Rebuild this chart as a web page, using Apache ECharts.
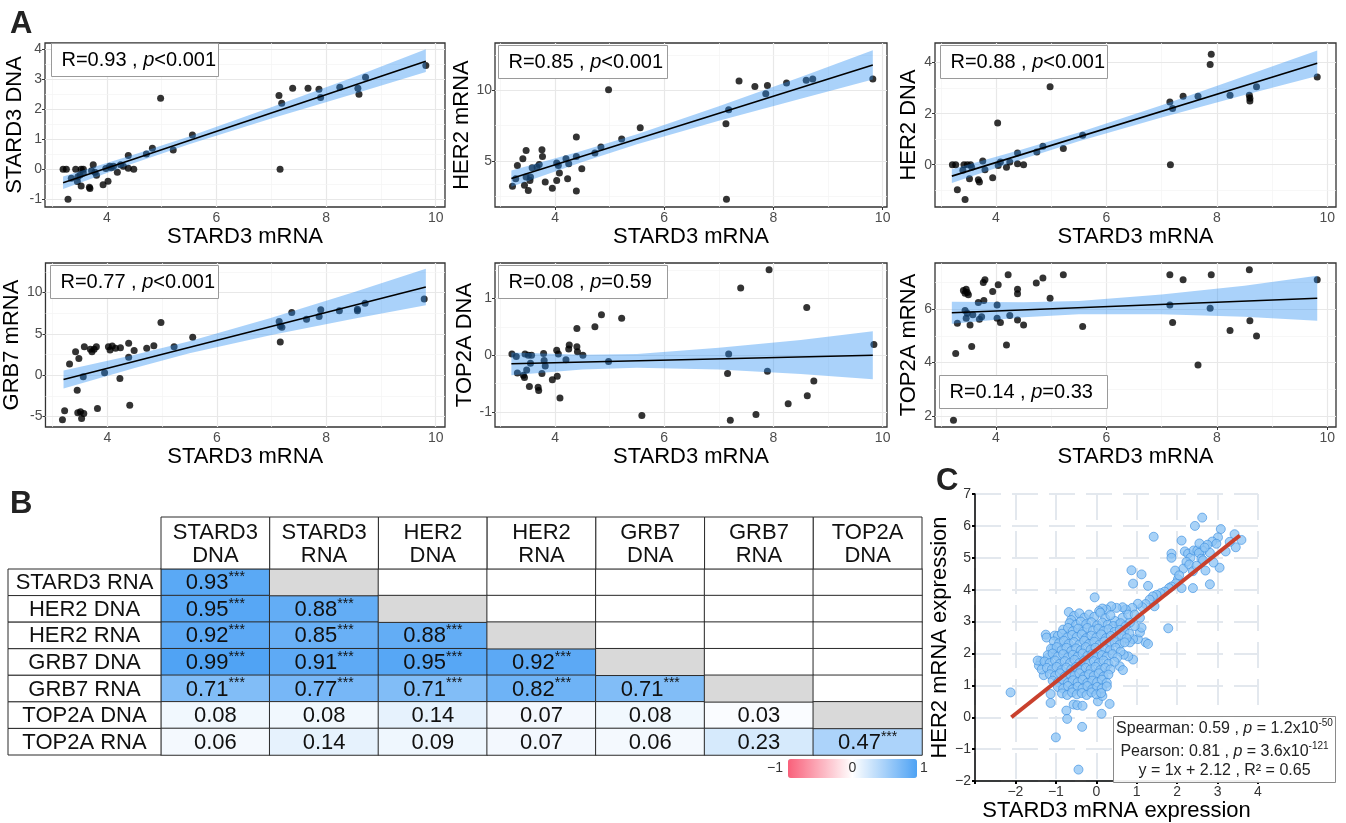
<!DOCTYPE html>
<html>
<head>
<meta charset="utf-8">
<title>STARD3 correlations</title>
<script src="https://cdn.jsdelivr.net/npm/echarts@6/dist/echarts.min.js"></script>
<style>
  html, body { margin: 0; padding: 0; background: #fff; }
  #chart { width: 1346px; height: 823px; }
</style>
</head>
<body>
<div id="chart"></div>
<script>
const FONT = '"Liberation Sans", Arial, Helvetica, sans-serif';

// ---------- panel A: STARD3 mRNA (x) against each gene (y) ----------
const aXTicks = [4, 6, 8, 10];
const aXMinor = [3, 5, 7, 9];

const stard3DnaPts = [[3.20,0.00],[3.26,0.00],[3.29,-1.00],[3.35,-0.30],[3.43,0.00],[3.46,-0.41],[3.47,-0.25],[3.51,-0.19],[3.53,0.00],[3.53,-0.56],[3.57,0.00],[3.57,-0.13],[3.68,-0.60],[3.69,-0.64],[3.72,-0.05],[3.75,0.15],[3.78,-0.10],[3.81,-0.20],[3.93,-0.52],[3.98,0.02],[4.02,-0.40],[4.05,0.10],[4.08,0.05],[4.12,0.10],[4.19,-0.10],[4.25,0.15],[4.30,0.10],[4.39,0.46],[4.39,0.03],[4.49,0.00],[4.72,0.51],[4.83,0.70],[4.98,2.37],[5.21,0.64],[5.56,1.14],[7.14,2.46],[7.16,0.00],[7.19,2.20],[7.39,2.70],[7.67,2.70],[7.87,2.67],[7.90,2.39],[8.25,2.73],[8.58,2.70],[8.60,2.50],[8.72,3.07],[9.82,3.46]];
const her2RnaPts = [[3.22,3.21],[3.28,3.75],[3.31,4.69],[3.41,5.17],[3.47,5.75],[3.44,3.28],[3.47,3.87],[3.51,2.92],[3.54,3.63],[3.55,3.87],[3.58,4.53],[3.67,4.58],[3.71,4.76],[3.76,5.80],[3.77,5.33],[3.82,3.51],[3.95,3.07],[4.03,4.86],[4.03,3.63],[4.06,4.69],[4.08,4.15],[4.20,5.17],[4.23,3.75],[4.25,4.81],[4.39,6.70],[4.39,2.88],[4.39,5.33],[4.49,4.46],[4.73,5.57],[4.84,5.99],[4.98,10.05],[5.22,6.56],[5.56,7.36],[7.13,7.64],[7.18,8.63],[7.14,2.29],[7.37,10.66],[7.66,10.28],[7.86,9.76],[7.89,10.35],[8.24,10.52],[8.60,10.71],[8.72,10.80],[9.82,10.80]];
const her2DnaPts = [[3.21,0.00],[3.27,0.00],[3.30,-0.98],[3.40,-0.22],[3.42,0.00],[3.44,-1.37],[3.48,0.00],[3.52,-0.55],[3.54,0.00],[3.56,-0.10],[3.68,-0.59],[3.70,-0.68],[3.76,0.14],[3.80,-0.20],[3.94,-0.51],[4.03,1.63],[4.04,-0.03],[4.08,0.10],[4.19,-0.10],[4.25,0.10],[4.39,0.46],[4.39,0.04],[4.50,0.00],[4.74,0.50],[4.85,0.72],[4.98,3.05],[5.22,0.63],[5.57,1.15],[7.15,2.46],[7.16,0.00],[7.20,2.20],[7.39,2.68],[7.66,2.68],[7.88,3.93],[7.90,4.33],[8.24,2.72],[8.59,2.72],[8.60,2.60],[8.60,2.50],[8.72,3.05],[9.82,3.44]];
const grb7RnaPts = [[3.18,-5.39],[3.22,-4.30],[3.31,1.34],[3.42,2.83],[3.45,-1.82],[3.48,2.02],[3.46,-4.57],[3.51,-4.45],[3.53,-5.26],[3.57,-4.66],[3.56,-0.20],[3.58,3.44],[3.69,3.12],[3.72,2.83],[3.76,3.12],[3.80,3.44],[3.82,-4.05],[3.95,0.28],[4.02,3.44],[4.05,3.04],[4.09,3.52],[4.15,3.24],[4.24,3.32],[4.23,-0.40],[4.39,3.85],[4.39,2.15],[4.41,-3.64],[4.49,2.96],[4.72,3.24],[4.85,3.56],[4.98,6.36],[5.22,3.44],[5.56,4.57],[7.14,6.48],[7.16,5.95],[7.16,4.00],[7.19,5.79],[7.37,7.57],[7.64,6.76],[7.87,7.09],[7.90,7.90],[8.24,7.77],[8.57,7.77],[8.57,7.98],[8.71,8.70],[9.79,9.19]];
const top2aDnaPts = [[3.21,0.02],[3.29,-0.02],[3.31,-0.31],[3.42,-0.35],[3.44,-0.39],[3.45,0.02],[3.48,-0.26],[3.51,0.00],[3.53,-0.55],[3.55,-0.14],[3.57,0.00],[3.69,-0.56],[3.70,-0.62],[3.76,-0.32],[3.79,0.03],[3.80,-0.09],[3.82,-0.19],[3.95,-0.43],[4.03,0.09],[4.04,-0.37],[4.06,0.02],[4.09,-0.75],[4.20,-0.08],[4.25,0.11],[4.26,0.18],[4.40,0.47],[4.40,0.15],[4.41,0.06],[4.51,0.00],[4.73,0.50],[4.85,0.71],[4.98,-0.11],[5.22,0.65],[5.59,-1.06],[7.16,-0.32],[7.18,0.02],[7.21,-1.14],[7.40,1.18],[7.68,-1.04],[7.89,-0.28],[7.92,1.50],[8.27,-0.85],[8.61,0.84],[8.62,-0.71],[8.74,-0.45],[9.84,0.19]];
const top2aRnaPts = [[3.23,1.84],[3.27,4.34],[3.30,5.47],[3.41,6.70],[3.44,6.60],[3.46,6.75],[3.48,6.63],[3.50,6.54],[3.44,5.95],[3.46,5.66],[3.48,5.85],[3.53,5.41],[3.56,4.60],[3.58,5.79],[3.68,6.25],[3.70,5.62],[3.74,5.72],[3.77,7.00],[3.80,7.10],[3.78,6.33],[3.94,6.66],[4.04,6.92],[4.02,6.16],[4.02,5.66],[4.08,5.50],[4.19,4.66],[4.22,7.29],[4.25,5.76],[4.39,6.75],[4.39,6.58],[4.39,5.60],[4.50,5.41],[4.73,6.98],[4.85,7.17],[4.98,6.41],[5.22,7.29],[5.57,5.35],[7.15,7.29],[7.15,6.16],[7.20,5.50],[7.39,7.10],[7.66,3.91],[7.88,6.04],[7.90,7.29],[8.24,5.20],[8.59,7.48],[8.60,5.57],[8.72,5.00],[9.82,7.10]];

// fitted line ends and confidence band
const fitX = [3.2, 9.82];
const stard3DnaFit = [-0.45, 3.60];
const her2RnaFit = [3.76, 11.80];
const her2DnaFit = [-0.45, 3.98];
const grb7RnaFit = [-0.53, 10.65];
const top2aDnaFit = [-0.15, 0.00];
const top2aRnaFit = [5.87, 6.41];

const bandX = [3.2, 4.5, 5.5, 7, 8.5, 9.82];
const stard3DnaLo = [-0.66, 0.21, 0.83, 1.69, 2.51, 3.24];
const stard3DnaHi = [-0.24, 0.49, 1.09, 2.07, 3.07, 4.00];
const her2RnaLo = [3.19, 4.94, 6.18, 7.85, 9.40, 10.76];
const her2RnaHi = [4.34, 5.73, 6.90, 8.87, 10.95, 12.84];
const her2DnaLo = [-0.72, 0.23, 0.92, 1.85, 2.73, 3.48];
const her2DnaHi = [-0.18, 0.61, 1.26, 2.33, 3.47, 4.48];
const grb7RnaLo = [-1.63, 0.87, 2.64, 4.84, 6.82, 8.45];
const grb7RnaHi = [0.57, 2.47, 4.08, 6.94, 10.02, 12.85];
const top2aDnaLo = [-0.35, -0.25, -0.22, -0.25, -0.33, -0.42];
const top2aDnaHi = [0.05, 0.01, 0.02, 0.13, 0.27, 0.42];
const top2aRnaLo = [5.46, 5.70, 5.81, 5.81, 5.72, 5.57];
const top2aRnaHi = [6.28, 6.26, 6.31, 6.55, 6.88, 7.25];

const aStatR = ['0.93', '0.85', '0.88', '0.77', '0.08', '0.14'];
const aStatP = ['<0.001', '<0.001', '<0.001', '<0.001', '=0.59', '=0.33'];

// ---------- panel B: correlation table ----------
const tableCols = ['STARD3\nDNA', 'STARD3\nRNA', 'HER2\nDNA', 'HER2\nRNA', 'GRB7\nDNA', 'GRB7\nRNA', 'TOP2A\nDNA'];
const tableRows = ['STARD3 RNA', 'HER2 DNA', 'HER2 RNA', 'GRB7 DNA', 'GRB7 RNA', 'TOP2A DNA', 'TOP2A RNA'];
const corrLower = [
  [0.93],
  [0.95, 0.88],
  [0.92, 0.85, 0.88],
  [0.99, 0.91, 0.95, 0.92],
  [0.71, 0.77, 0.71, 0.82, 0.71],
  [0.08, 0.08, 0.14, 0.07, 0.08, 0.03],
  [0.06, 0.14, 0.09, 0.07, 0.06, 0.23, 0.47]
];
const corrStars = [
  ['***'],
  ['***', '***'],
  ['***', '***', '***'],
  ['***', '***', '***', '***'],
  ['***', '***', '***', '***', '***'],
  ['', '', '', '', '', ''],
  ['', '', '', '', '', '', '***']
];

// ---------- panel C: STARD3 vs HER2 mRNA expression ----------
const cOuterPts = [[-2.12,0.78],[-1.13,0.73],[-1.13,0.45],[-1.00,-0.63],[-0.74,0.21],[-0.72,-0.05],[-0.44,-1.64],[-0.35,-0.30],[-0.56,0.40],[-0.47,0.38],[-0.34,0.36],[0.13,0.11],[0.33,0.42],[0.04,0.50],[0.15,0.67],[-0.04,3.76],[-0.68,3.30],[-1.25,2.59],[-1.23,2.50],[-1.03,2.56],[-1.38,1.76],[-1.19,1.87],[-1.07,2.14],[-1.30,1.32],[-1.42,1.62],[-1.35,1.50],[-1.45,1.78],
  [0.87,4.61],[1.12,4.48],[0.91,4.19],[1.28,4.12],[1.42,5.66],[1.78,2.79],[1.86,5.13],[1.86,5.00],[2.11,5.54],[2.44,6.00],[2.62,6.26],[2.39,4.05],[2.81,4.17],[3.05,4.69],[3.08,5.90],[3.42,5.74],[3.45,5.33],[3.59,5.56],[3.01,5.64],[2.87,5.51],[2.97,5.44],[2.75,5.41],[2.63,5.23],[2.81,5.16],[2.19,5.20],[2.27,5.13],[2.33,5.00],[2.41,5.23],[2.50,5.23],[2.54,5.15],[2.60,4.97],[2.64,4.92],[2.23,4.87],[2.15,4.66],[2.30,4.79],[2.39,4.58],[2.48,4.75],[2.02,4.33],[1.97,4.20],[1.86,4.10],[1.80,4.05],[2.11,4.05],[1.69,3.94],[1.59,3.89],[1.49,3.84],[1.40,3.79],[1.32,3.69],[1.22,3.55],[1.14,3.45],[1.03,3.56],[1.44,3.48],[0.89,3.43],[0.73,3.38],[0.65,3.45],[0.50,3.43],[0.37,3.48],[0.25,3.38],[0.15,3.41],[0.07,3.33],[1.22,2.35],[1.28,2.30],[1.03,2.45],[0.91,2.45],[0.83,2.35],[1.08,2.66],[1.12,2.81],[0.95,2.86],[0.83,2.97],[0.65,3.12],[0.79,3.22],[0.95,3.22],[1.08,3.12],[0.56,2.92],[0.46,3.02],[0.91,1.81],[0.79,1.91],[0.68,1.96],[0.58,1.60],[0.66,1.48],[2.70,4.60],[2.90,4.85],[3.20,5.20],[3.30,5.50],[2.55,5.45],[2.68,5.32],[1.95,4.60],[2.05,4.45]];
const cCloudPts = [[-0.55,3.18],[-0.42,3.26],[-0.30,3.12],[-0.18,3.22],[-0.05,3.15],[0.10,3.28],[0.22,3.10],[0.35,3.20],[-0.62,3.05],
  [-0.66,2.95],[-0.50,2.90],[-0.38,3.00],[-0.25,2.92],[-0.12,2.98],[0.02,2.88],[0.15,2.97],[0.28,2.90],[0.42,2.86],[0.60,2.95],[0.72,2.85],
  [-0.82,2.75],[-0.70,2.80],[-0.58,2.70],[-0.45,2.78],[-0.33,2.68],[-0.22,2.80],[-0.08,2.72],[0.05,2.78],[0.18,2.70],[0.30,2.76],[0.45,2.68],[0.58,2.74],[0.70,2.70],[0.82,2.62],
  [-0.95,2.55],[-0.85,2.62],[-0.72,2.50],[-0.60,2.58],[-0.48,2.52],[-0.36,2.60],[-0.25,2.48],[-0.12,2.56],[0.00,2.50],[0.12,2.60],[0.24,2.48],[0.36,2.55],[0.50,2.50],[0.62,2.58],[0.75,2.48],
  [-1.05,2.38],[-0.92,2.32],[-0.80,2.40],[-0.68,2.30],[-0.55,2.36],[-0.42,2.28],[-0.30,2.40],[-0.18,2.30],[-0.05,2.37],[0.08,2.28],[0.20,2.38],[0.32,2.30],[0.45,2.36],[0.58,2.28],[0.70,2.35],
  [-1.12,2.15],[-0.98,2.20],[-0.86,2.10],[-0.74,2.18],[-0.62,2.08],[-0.50,2.16],[-0.38,2.10],[-0.26,2.20],[-0.14,2.12],[-0.02,2.18],[0.10,2.08],[0.22,2.15],[0.34,2.10],[0.48,2.18],[0.60,2.06],
  [-1.20,1.95],[-1.08,2.00],[-0.95,1.90],[-0.82,1.98],[-0.70,1.88],[-0.58,1.96],[-0.46,1.90],[-0.34,2.00],[-0.22,1.92],[-0.10,1.98],[0.02,1.88],[0.14,1.95],[0.26,1.90],[0.40,1.98],[0.52,1.88],
  [-1.28,1.75],[-1.15,1.70],[-1.02,1.78],[-0.90,1.68],[-0.78,1.76],[-0.65,1.70],[-0.54,1.80],[-0.42,1.70],[-0.30,1.78],[-0.18,1.68],[-0.06,1.76],[0.06,1.70],[0.18,1.78],[0.30,1.68],[0.45,1.74],
  [-1.22,1.55],[-1.10,1.50],[-0.98,1.58],[-0.86,1.48],[-0.74,1.56],[-0.62,1.50],[-0.50,1.58],[-0.38,1.48],[-0.26,1.55],[-0.14,1.50],[-0.02,1.58],[0.10,1.48],[0.22,1.55],[0.35,1.50],
  [-1.15,1.35],[-1.02,1.30],[-0.90,1.38],[-0.78,1.28],[-0.66,1.36],[-0.54,1.30],[-0.42,1.38],[-0.30,1.28],[-0.18,1.35],[-0.06,1.30],[0.06,1.38],[0.18,1.28],[0.30,1.34],
  [-1.08,1.15],[-0.95,1.10],[-0.82,1.18],[-0.70,1.08],[-0.58,1.16],[-0.46,1.10],[-0.34,1.18],[-0.22,1.08],[-0.10,1.15],[0.02,1.10],[0.14,1.18],[0.26,1.08],
  [-0.95,0.95],[-0.82,0.90],[-0.70,0.98],[-0.58,0.88],[-0.46,0.96],[-0.34,0.90],[-0.22,0.98],[-0.10,0.88],[0.02,0.95],[0.14,0.90],[0.26,0.97],
  [-0.85,0.75],[-0.72,0.70],[-0.60,0.78],[-0.48,0.72],[-0.36,0.76],[-0.24,0.70],[-0.12,0.78],[0.00,0.72],[0.12,0.76]];
const cFitX = [-2.1, 3.55];
const cFitY = [0.0, 5.70];

// ---------- layout of the six small panels ----------
const aPanels = [
  {box: [45, 43, 400, 164], xr: [2.87, 10.17], yr: [-1.26, 4.21], yTicks: [-1, 0, 1, 2, 3, 4], yMinor: [-0.5, 0.5, 1.5, 2.5, 3.5], name: 'STARD3 DNA', yGap: 9, xGap: 13, pts: stard3DnaPts, fit: stard3DnaFit, lo: stard3DnaLo, hi: stard3DnaHi, tag: [51, 43, 167]},
  {box: [495, 43, 392, 164], xr: [2.90, 10.08], yr: [1.75, 13.35], yTicks: [5, 10], yMinor: [2.5, 7.5, 12.5], name: 'HER2 mRNA', yGap: 12, xGap: 13, pts: her2RnaPts, fit: her2RnaFit, lo: her2RnaLo, hi: her2RnaHi, tag: [498, 45, 169]},
  {box: [935, 43, 401, 164], xr: [2.895, 10.16], yr: [-1.66, 4.77], yTicks: [0, 2, 4], yMinor: [-1, 1, 3], name: 'HER2 DNA', yGap: 5, xGap: 13, pts: her2DnaPts, fit: her2DnaFit, lo: her2DnaLo, hi: her2DnaHi, tag: [940, 45, 167]},
  {box: [45, 263, 400, 164], xr: [2.87, 10.17], yr: [-6.28, 13.56], yTicks: [-5, 0, 5, 10], yMinor: [-2.5, 2.5, 7.5, 12.5], name: 'GRB7 mRNA', yGap: 9, xGap: 12, pts: grb7RnaPts, fit: grb7RnaFit, lo: grb7RnaLo, hi: grb7RnaHi, tag: [50, 265, 168]},
  {box: [495, 263, 392, 164], xr: [2.90, 10.08], yr: [-1.26, 1.62], yTicks: [-1, 0, 1], yMinor: [-0.5, 0.5, 1.5], name: 'TOP2A DNA', yGap: 12, xGap: 12, pts: top2aDnaPts, fit: top2aDnaFit, lo: top2aDnaLo, hi: top2aDnaHi, tag: [498, 265, 169]},
  {box: [935, 263, 401, 164], xr: [2.895, 10.16], yr: [1.59, 7.73], yTicks: [2, 4, 6], yMinor: [3, 5, 7], name: 'TOP2A mRNA', yGap: 5, xGap: 12, pts: top2aRnaPts, fit: top2aRnaFit, lo: top2aRnaLo, hi: top2aRnaHi, tag: [939, 375, 168]}
];

const option = {
  animation: false,
  backgroundColor: '#fff',
  textStyle: {fontFamily: FONT},
  grid: [], xAxis: [], yAxis: [], series: [], graphic: [], visualMap: []
};

const majorGrid = {color: '#e8e8e8', width: 1.2, type: 'solid'};
const minorGrid = {color: '#f3f3f3', width: 0.7, type: 'solid'};
const nameStyle = {fontSize: 22, color: '#000', fontFamily: FONT};

aPanels.forEach((p, i) => {
  option.grid.push({left: p.box[0], top: p.box[1], width: p.box[2], height: p.box[3],
    show: true, backgroundColor: '#fff', borderColor: '#333', borderWidth: 1.3});
  option.xAxis.push({type: 'value', gridIndex: i, min: p.xr[0], max: p.xr[1],
    name: 'STARD3 mRNA', nameLocation: 'middle', nameGap: p.xGap, nameTextStyle: nameStyle,
    axisLine: {show: false}, splitLine: {show: false},
    axisTick: {show: true, customValues: aXTicks, length: 3, lineStyle: {color: '#333'}},
    axisLabel: {customValues: aXTicks, fontSize: 14, color: '#4d4d4d', margin: 4}});
  option.yAxis.push({type: 'value', gridIndex: i, min: p.yr[0], max: p.yr[1],
    name: p.name, nameLocation: 'middle', nameGap: p.yGap, nameTextStyle: nameStyle,
    axisLine: {show: false}, splitLine: {show: false},
    axisTick: {show: true, customValues: p.yTicks, length: 3, lineStyle: {color: '#333'}},
    axisLabel: {customValues: p.yTicks, fontSize: 14, color: '#4d4d4d', margin: 3}});

  const lines = []
    .concat(aXTicks.map(v => ({xAxis: v, lineStyle: majorGrid})))
    .concat(aXMinor.map(v => ({xAxis: v, lineStyle: minorGrid})))
    .concat(p.yTicks.map(v => ({yAxis: v, lineStyle: majorGrid})))
    .concat(p.yMinor.map(v => ({yAxis: v, lineStyle: minorGrid})));

  option.series.push({type: 'scatter', xAxisIndex: i, yAxisIndex: i, data: p.pts, symbolSize: 7,
    itemStyle: {color: '#000'}, z: 2, silent: true,
    markLine: {silent: true, symbol: ['none', 'none'], z: 1, label: {show: false},
      lineStyle: {type: 'solid'}, emphasis: {disabled: true}, data: lines}});
  option.series.push({type: 'custom', xAxisIndex: i, yAxisIndex: i, z: 3, silent: true,
    data: [[bandX[0], p.lo[0]]],
    renderItem: (params, api) => {
      const up = bandX.map((x, k) => api.coord([x, p.hi[k]]));
      const dn = bandX.map((x, k) => api.coord([x, p.lo[k]])).reverse();
      return {type: 'polygon', shape: {points: up.concat(dn)}, style: {fill: 'rgba(42,142,242,0.4)'}};
    }});
  option.series.push({type: 'line', xAxisIndex: i, yAxisIndex: i, z: 4, silent: true,
    data: fitX.map((x, k) => [x, p.fit[k]]), symbol: 'none',
    lineStyle: {color: '#000', width: 1.6}});

  option.graphic.push({type: 'group', left: p.tag[0], top: p.tag[1], silent: true, z: 100, children: [
    {type: 'rect', z: 100, shape: {x: 0, y: 0, width: p.tag[2], height: 33},
      style: {fill: '#fff', stroke: '#9a9a9a', lineWidth: 1}},
    {type: 'text', z: 101, x: 10, y: 17, style: {
      text: '{n|R=' + aStatR[i] + ' , }{i|p}{n|' + aStatP[i] + '}',
      verticalAlign: 'middle',
      rich: {n: {fontSize: 20, fontFamily: FONT, fill: '#000'},
             i: {fontSize: 20, fontFamily: FONT, fontStyle: 'italic', fill: '#000'}}}}
  ]});
});

// ---------- table (panel B) ----------
const tIdx = option.grid.length;
option.grid.push({left: 161, top: 569, width: 761, height: 186, show: false});
option.xAxis.push({type: 'category', gridIndex: tIdx, data: tableCols, show: false});
option.yAxis.push({type: 'category', gridIndex: tIdx, data: tableRows, inverse: true, show: false});

const corrData = [];
const frameData = [];
corrLower.forEach((row, r) => {
  row.forEach((v, c) => corrData.push([c, r, v, corrStars[r][c]]));
  for (let c = row.length; c < tableCols.length; c++) {
    frameData.push({value: [c, r, 0], itemStyle: {color: c === row.length ? '#d9d9d9' : '#fff'}});
  }
});

const cellBorder = {borderColor: '#2b2b2b', borderWidth: 1};
const corrSeriesIdx = option.series.length;
option.series.push({type: 'heatmap', xAxisIndex: tIdx, yAxisIndex: tIdx, data: corrData, silent: true,
  itemStyle: cellBorder,
  label: {show: true,
    formatter: p => '{v|' + p.value[2].toFixed(2) + '}' + (p.value[3] ? '{s|' + p.value[3] + '}' : ''),
    rich: {v: {fontSize: 22, color: '#111', fontFamily: FONT, verticalAlign: 'bottom', lineHeight: 24},
           s: {fontSize: 14, color: '#111', fontFamily: FONT, verticalAlign: 'top', lineHeight: 24}}}});
option.series.push({type: 'heatmap', xAxisIndex: tIdx, yAxisIndex: tIdx, data: frameData, silent: true,
  itemStyle: cellBorder, label: {show: false}});

option.series.push({type: 'custom', xAxisIndex: tIdx, yAxisIndex: tIdx, silent: true, z: 5,
  data: tableCols.map((_, c) => [c, 0]),
  renderItem: (params, api) => {
    const c = api.value(0);
    const pt = api.coord([c, 0]);
    const sz = api.size([1, 1]);
    const x0 = pt[0] - sz[0] / 2, y0 = pt[1] - sz[1] / 2 - 52;
    return {type: 'group', children: [
      {type: 'rect', shape: {x: x0, y: y0, width: sz[0], height: 52}, style: {fill: '#fff', stroke: '#2b2b2b', lineWidth: 1}},
      {type: 'text', x: pt[0], y: y0 + 27, style: {text: tableCols[c], fontSize: 22, fontFamily: FONT, fill: '#111',
        align: 'center', verticalAlign: 'middle', lineHeight: 23}}
    ]};
  }});
option.series.push({type: 'custom', xAxisIndex: tIdx, yAxisIndex: tIdx, silent: true, z: 5,
  data: tableRows.map((_, r) => [0, r]),
  renderItem: (params, api) => {
    const r = api.value(1);
    const pt = api.coord([0, r]);
    const sz = api.size([1, 1]);
    const x0 = pt[0] - sz[0] / 2 - 153, y0 = pt[1] - sz[1] / 2;
    return {type: 'group', children: [
      {type: 'rect', shape: {x: x0, y: y0, width: 153, height: sz[1]}, style: {fill: '#fff', stroke: '#2b2b2b', lineWidth: 1}},
      {type: 'text', x: x0 + 76.5, y: pt[1] + 1, style: {text: tableRows[r], fontSize: 22, fontFamily: FONT, fill: '#111',
        align: 'center', verticalAlign: 'middle'}}
    ]};
  }});

option.visualMap.push({type: 'continuous', seriesIndex: corrSeriesIdx, dimension: 2, min: -1, max: 1,
  orient: 'horizontal', left: 788, top: 759, itemWidth: 19, itemHeight: 129, padding: 0,
  calculable: false, hoverLink: false, realtime: false,
  inRange: {color: ['#f9607a', '#ffffff', '#4ea2f4']}});

// ---------- scatter (panel C) ----------
const cIdx = option.grid.length;
option.grid.push({left: 975, top: 494, width: 283, height: 292, show: false});
const cLabel = {fontSize: 14, color: '#333', fontFamily: FONT,
  formatter: v => (v === -3 ? '' : String(v).replace('-', '\u2212'))};
option.xAxis.push({type: 'value', gridIndex: cIdx, min: -3, max: 4, interval: 1,
  name: 'STARD3 mRNA expression', nameLocation: 'middle', nameGap: 16, nameTextStyle: nameStyle,
  axisLine: {show: true, onZero: false, lineStyle: {color: '#000', width: 1.5}},
  axisTick: {show: true, length: 3, lineStyle: {color: '#000', width: 2}},
  axisLabel: Object.assign({margin: 4}, cLabel),
  splitLine: {show: true, lineStyle: {color: '#e3e8ee', width: 2, type: [26, 11]}}});
option.yAxis.push({type: 'value', gridIndex: cIdx, min: -2, max: 7, interval: 1,
  name: 'HER2 mRNA expression', nameLocation: 'middle', nameGap: 14, nameTextStyle: nameStyle,
  axisLine: {show: true, onZero: false, lineStyle: {color: '#000', width: 1.5}},
  axisTick: {show: true, length: 3, lineStyle: {color: '#000', width: 2}},
  axisLabel: Object.assign({margin: 4}, cLabel),
  splitLine: {show: true, lineStyle: {color: '#e3e8ee', width: 2, type: [26, 11]}}});
option.series.push({type: 'scatter', xAxisIndex: cIdx, yAxisIndex: cIdx, silent: true,
  data: cOuterPts.concat(cCloudPts), symbolSize: 9,
  itemStyle: {color: 'rgba(140,196,245,0.95)', borderColor: '#3b8ee0', borderWidth: 0.8}});
option.series.push({type: 'line', xAxisIndex: cIdx, yAxisIndex: cIdx, silent: true, z: 4,
  data: cFitX.map((x, k) => [x, cFitY[k]]), symbol: 'none',
  lineStyle: {color: '#c9402d', width: 4}});

const statRich = {
  n: {fontSize: 16, fontFamily: FONT, fill: '#222', verticalAlign: 'bottom', lineHeight: 19},
  i: {fontSize: 16, fontFamily: FONT, fill: '#222', fontStyle: 'italic', verticalAlign: 'bottom', lineHeight: 19},
  s: {fontSize: 10, fontFamily: FONT, fill: '#222', verticalAlign: 'top', lineHeight: 19}
};
option.graphic.push({type: 'group', left: 1113, top: 716, silent: true, z: 100, children: [
  {type: 'rect', z: 100, shape: {x: 0, y: 0, width: 222, height: 66}, style: {fill: 'rgba(255,255,255,0.92)', stroke: '#8a8a8a', lineWidth: 1}},
  {type: 'text', z: 101, x: 111, y: 11, style: {text: '{n|Spearman: 0.59 , }{i|p}{n| = 1.2x10}{s|-50}', align: 'center', verticalAlign: 'middle', rich: statRich}},
  {type: 'text', z: 101, x: 111, y: 34, style: {text: '{n|Pearson: 0.81 , }{i|p}{n| = 3.6x10}{s|-121}', align: 'center', verticalAlign: 'middle', rich: statRich}},
  {type: 'text', z: 101, x: 111, y: 53, style: {text: '{n|y = 1x + 2.12 , R\u00b2 = 0.65}', align: 'center', verticalAlign: 'middle', rich: statRich}}
]});

// ---------- panel letters and colour bar labels ----------
const letter = (t, x, y) => ({type: 'text', left: x, top: y, silent: true, z: 100,
  style: {text: t, font: 'bold 31px ' + FONT, fill: '#222'}});
option.graphic.push(letter('A', 10, 9), letter('B', 10, 489), letter('C', 936, 466));
const barText = (t, x, align) => ({type: 'text', x: x, y: 768.5, silent: true, z: 100,
  style: {text: t, fontSize: 14, fontFamily: FONT, fill: '#333', align: align, verticalAlign: 'middle'}});
option.graphic.push(barText('\u22121', 783, 'right'), barText('0', 852.5, 'center'), barText('1', 920, 'left'));

const chart = echarts.init(document.getElementById('chart'));
chart.setOption(option);
</script>
</body>
</html>
